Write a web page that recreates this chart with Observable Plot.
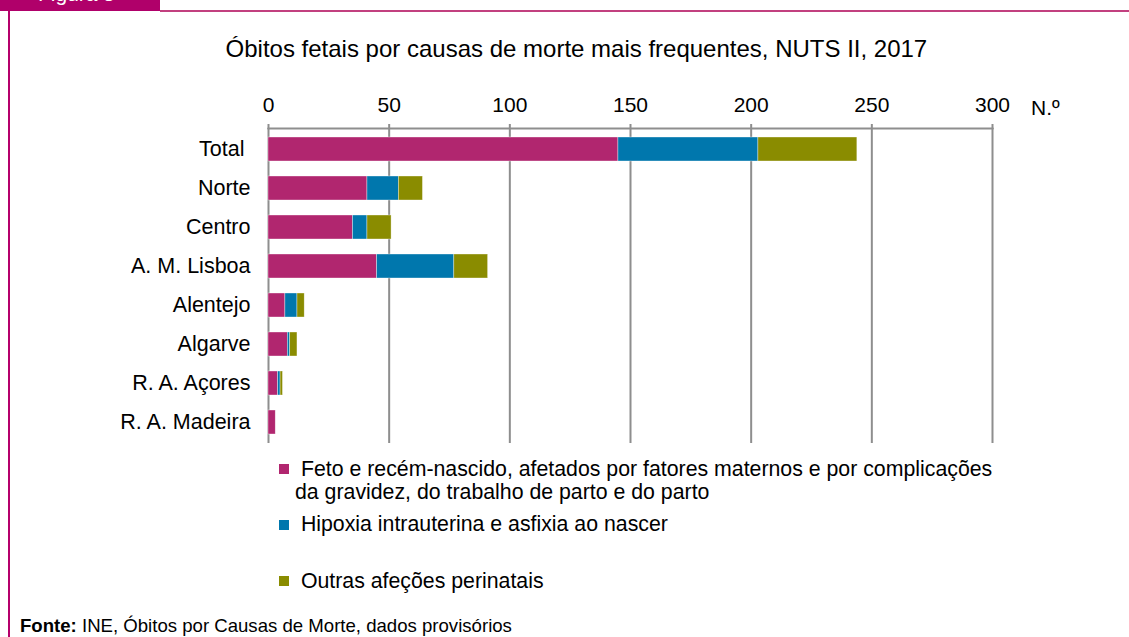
<!DOCTYPE html>
<html>
<head>
<meta charset="utf-8">
<script src="https://cdn.jsdelivr.net/npm/d3@7"></script>
<script src="https://cdn.jsdelivr.net/npm/@observablehq/plot@0.6"></script>
<style>
  html, body { margin: 0; padding: 0; background: #fff; }
  #wrap { position: relative; width: 1129px; height: 637px; overflow: hidden; background: #fff;
          font-family: "Liberation Sans", Arial, sans-serif; color: #000; }
  .abs { position: absolute; white-space: pre; line-height: 1; }
  #chart { position: absolute; left: 0; top: 0; }
  .sw { position: absolute; width: 10px; height: 10px; }
</style>
</head>
<body>
<div id="wrap">
  <div class="abs" style="left:0;top:0;width:160px;height:11px;background:#B0006A;overflow:hidden;">
    <div class="abs" style="left:38px;top:-17px;font-size:21px;color:#fff;">Figura 5</div>
  </div>
  <div class="abs" style="left:160px;top:10px;width:969px;height:1.5px;background:#C2407F;"></div>
  <div class="abs" style="left:7.5px;top:11px;width:2px;height:626px;background:#B5006B;"></div>
  <div id="title" class="abs" style="left:576.4px;top:37px;font-size:24px;transform:translateX(-50%);"></div>
  <div id="unit" class="abs" style="left:1031px;top:97.2px;font-size:21px;"></div>
  <div id="chart"></div>
  <div id="legend"></div>
  <div class="abs" style="left:20px;top:617px;font-size:18.6px;"><b>Fonte:</b> INE, Óbitos por Causas de Morte, dados provisórios</div>
</div>
<script>
// ---- data ----
const regions = ["Total", "Norte", "Centro", "A. M. Lisboa", "Alentejo", "Algarve", "R. A. Açores", "R. A. Madeira"];
const causes = [
  "Feto e recém-nascido, afetados por fatores maternos e por complicações da gravidez, do trabalho de parto e do parto",
  "Hipoxia intrauterina e asfixia ao nascer",
  "Outras afeções perinatais"
];
const fetoRecemNascido = [145, 41, 35, 45, 7, 8, 4, 3];
const hipoxiaAsfixia   = [58, 13, 6, 32, 5, 1, 1, 0];
const outrasAfecoes    = [41, 10, 10, 14, 3, 3, 1, 0];
const xTicks = [0, 50, 100, 150, 200, 250, 300];
const colors = ["#B1266F", "#0077AD", "#8A8C00"];
const titleText = "Óbitos fetais por causas de morte mais frequentes, NUTS II, 2017";
const unitText = "N.º";
const legendLines = [
  [" Feto e recém-nascido, afetados por fatores maternos e por complicações", "da gravidez, do trabalho de parto e do parto"],
  [" Hipoxia intrauterina e asfixia ao nascer"],
  [" Outras afeções perinatais"]
];

// ---- table ----
const seriesValues = [fetoRecemNascido, hipoxiaAsfixia, outrasAfecoes];
const data = [];
seriesValues.forEach((vals, ci) => {
  vals.forEach((v, ri) => { if (v > 0) data.push({region: regions[ri], cause: causes[ci], value: v}); });
});

document.getElementById("title").textContent = titleText;
document.getElementById("unit").textContent = unitText;

const gray = "#8E8E8E";
const chart = Plot.plot({
  width: 1129,
  height: 450,
  marginTop: 128,
  marginBottom: 7,
  marginLeft: 268,
  marginRight: 137,
  style: {fontFamily: "'Liberation Sans', Arial, sans-serif", fontSize: "21px", color: "#000", background: "transparent"},
  x: {domain: [0, 300], axis: null, label: null},
  y: {domain: regions, paddingInner: 0.39, paddingOuter: 0.2, axis: null, label: null},
  color: {domain: causes, range: colors},
  marks: [
    Plot.gridX(xTicks, {stroke: gray, strokeOpacity: 1, strokeWidth: 2}),
    Plot.frame({anchor: "top", stroke: gray, strokeWidth: 2}),
    Plot.axisX(xTicks, {anchor: "top", label: null, tickSize: 5, tickPadding: 12, stroke: gray, strokeWidth: 2, fill: "#000", fontSize: 21}),
    Plot.axisY({label: null, tickSize: 0, tickPadding: 18, fontSize: 21.5, fill: "#000",
      tickFormat: d => d === "Total" ? "Total\u00a0" : d}),
    Plot.barX(data, Plot.stackX({x: "value", y: "region", fill: "cause", stroke: "#fff", strokeWidth: 0.6, strokeOpacity: 0.6}))
  ]
});
document.getElementById("chart").appendChild(chart);

// ---- legend ----
const legend = document.getElementById("legend");
const swatchTops = [463.5, 519.5, 576];
const lineBaselines = [[476.5, 499.5], [532], [588.5]];
legendLines.forEach((lines, i) => {
  const sw = document.createElement("div");
  sw.className = "sw";
  sw.style.left = "279px";
  sw.style.top = swatchTops[i] + "px";
  sw.style.background = colors[i];
  legend.appendChild(sw);
  lines.forEach((t, j) => {
    const d = document.createElement("div");
    d.className = "abs";
    d.style.fontSize = "21.3px";
    d.style.left = "295px";
    d.style.top = (lineBaselines[i][j] - 18) + "px";
    d.textContent = t;
    legend.appendChild(d);
  });
});
</script>
</body>
</html>
